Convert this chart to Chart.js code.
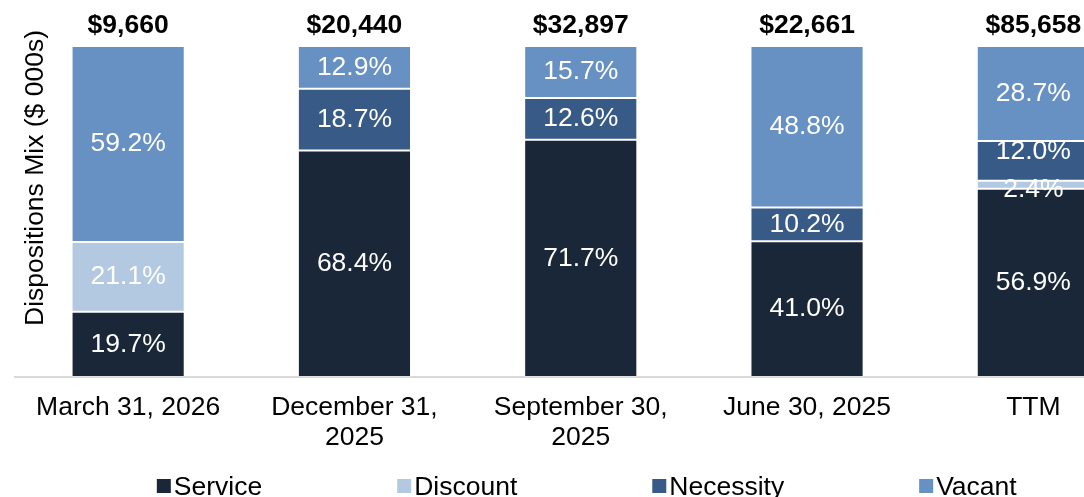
<!DOCTYPE html>
<html>
<head>
<meta charset="utf-8">
<script src="https://cdn.jsdelivr.net/npm/chart.js@4.4.1/dist/chart.umd.min.js"></script>
<style>
  html, body { margin: 0; padding: 0; background: #ffffff; overflow: hidden; width: 1084px; height: 497px; }
  #wrap { width: 1160px; height: 497px; }
</style>
</head>
<body>
<div id="wrap"><canvas id="c" width="1160" height="497"></canvas></div>
<script>
const categories = [["March 31, 2026"], ["December 31,", "2025"], ["September 30,", "2025"], ["June 30, 2025"], ["TTM"]];
const totals = ["$9,660", "$20,440", "$32,897", "$22,661", "$85,658"];
const service = [19.7, 68.4, 71.7, 41.0, 56.9];
const discount = [21.1, 0, 0, 0, 2.4];
const necessity = [0, 18.7, 12.6, 10.2, 12.0];
const vacant = [59.2, 12.9, 15.7, 48.8, 28.7];
const seriesNames = ["Service", "Discount", "Necessity", "Vacant"];
const seriesColors = ["#1A2739", "#B3C8E1", "#385A86", "#6790C3"];
const yTitle = "Dispositions Mix ($ 000s)";

const FONT = "'Liberation Sans', Arial, sans-serif";
const FS = 26.5;

const seriesData = [service, discount, necessity, vacant];
const datasets = seriesData.map((d, i) => ({
  label: seriesNames[i],
  data: d,
  backgroundColor: seriesColors[i],
  borderColor: 'rgba(255,255,255,0.2)',
  borderWidth: 1,
  borderSkipped: false,
  categoryPercentage: 1.0,
  barPercentage: 0.5
}));

const labelPlugin = {
  id: 'labels',
  afterDatasetsDraw(chart) {
    const ctx = chart.ctx;
    const area = chart.chartArea;
    ctx.save();
    ctx.font = FS + 'px ' + FONT;
    ctx.fillStyle = '#ffffff';
    ctx.textAlign = 'center';
    ctx.textBaseline = 'middle';
    const n = categories.length;
    for (let j = 0; j < n; j++) {
      const items = [];
      chart.data.datasets.forEach((ds, i) => {
        const v = ds.data[j];
        if (!v) return;
        const el = chart.getDatasetMeta(i).data[j];
        items.push({ x: el.x, y: (el.y + el.base) / 2, text: v.toFixed(1) + '%' });
      });
      const minSep = 38;
      for (let k = 1; k < items.length; k++) {
        const lower = items[k - 1], upper = items[k];
        const gap = lower.y - upper.y;
        if (gap < minSep) {
          const d = minSep - gap;
          lower.y += d / 3;
          upper.y -= 2 * d / 3;
        }
      }
      items.forEach(it => ctx.fillText(it.text, it.x, it.y));
    }
    // totals
    ctx.font = 'bold ' + FS + 'px ' + FONT;
    ctx.fillStyle = '#000000';
    ctx.textBaseline = 'alphabetic';
    const meta0 = chart.getDatasetMeta(0);
    for (let j = 0; j < n; j++) {
      ctx.fillText(totals[j], meta0.data[j].x, area.top - 13);
    }
    // y title
    ctx.font = FS + 'px ' + FONT;
    ctx.save();
    ctx.translate(43, 178);
    ctx.rotate(-Math.PI / 2);
    ctx.textAlign = 'center';
    ctx.fillText(yTitle, 0, 0);
    ctx.restore();
    // legend
    ctx.font = FS + 'px ' + FONT;
    ctx.textAlign = 'left';
    const box = 14, gapBox = 3, gapItem = 135;
    const widths = seriesNames.map(s => box + gapBox + ctx.measureText(s).width);
    const total = widths.reduce((a, b) => a + b, 0) + gapItem * (seriesNames.length - 1);
    let x = (area.left + area.right) / 2 + 6 - total / 2;
    const baseY = 495;
    seriesNames.forEach((s, i) => {
      ctx.fillStyle = seriesColors[i];
      ctx.fillRect(x, 479, box, box);
      ctx.fillStyle = '#000000';
      ctx.fillText(s, x + box + gapBox, baseY);
      x += widths[i] + gapItem;
    });
    ctx.restore();
  }
};

new Chart(document.getElementById('c'), {
  type: 'bar',
  data: { labels: categories, datasets: datasets },
  options: {
    responsive: false,
    devicePixelRatio: 1,
    animation: false,
    layout: { padding: { left: 15, right: 13.5, top: 46, bottom: 0 } },
    plugins: { legend: { display: false }, tooltip: { enabled: false } },
    scales: {
      x: {
        stacked: true,
        grid: { display: false, drawTicks: false },
        border: { display: true, color: '#d9d9d9', width: 2 },
        ticks: {
          color: '#000000',
          font: { family: FONT, size: FS, lineHeight: 1.12 },
          padding: 16,
          maxRotation: 0,
          autoSkip: false
        },
        afterFit(scale) { scale.height = 120; }
      },
      y: {
        stacked: true,
        display: false,
        min: 0,
        max: 100
      }
    }
  },
  plugins: [labelPlugin]
});
</script>
</body>
</html>
